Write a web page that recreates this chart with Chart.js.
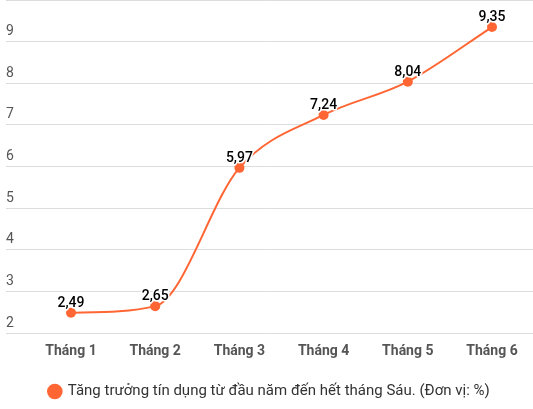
<!DOCTYPE html>
<html>
<head>
<meta charset="utf-8">
<script src="https://cdn.jsdelivr.net/npm/chart.js@4"></script>
<style>
html,body{margin:0;padding:0;background:#fff;overflow:hidden;}
#wrap{width:533px;height:409px;position:relative;}
</style>
</head>
<body>
<div id="wrap"><canvas id="c"></canvas></div>
<script>
const categories = ["Tháng 1","Tháng 2","Tháng 3","Tháng 4","Tháng 5","Tháng 6"];
const values = [2.49, 2.65, 5.97, 7.24, 8.04, 9.35];
const seriesName = "Tăng trưởng tín dụng từ đầu năm đến hết tháng Sáu. (Đơn vị: %)";
const yTicks = [2,3,4,5,6,7,8,9];

const lineColor = "#FF6633";

const labelPlugin = {
  id: "valueLabels",
  afterDatasetsDraw(chart) {
    const ctx = chart.ctx;
    const meta = chart.getDatasetMeta(0);
    ctx.save();
    ctx.font = "500 14px Roboto";
    ctx.textAlign = "center";
    ctx.textBaseline = "alphabetic";
    ctx.lineJoin = "round";
    meta.data.forEach((pt, i) => {
      const txt = values[i].toFixed(2).replace(".", ",");
      ctx.lineWidth = 3;
      ctx.strokeStyle = "#fff";
      ctx.strokeText(txt, pt.x, pt.y - 6);
      ctx.fillStyle = "#000";
      ctx.fillText(txt, pt.x, pt.y - 6);
    });
    ctx.restore();
  }
};

new Chart(document.getElementById("c"), {
  type: "line",
  data: {
    datasets: [{
      label: seriesName,
      data: values.map((v, i) => ({x: i, y: v})),
      borderColor: lineColor,
      backgroundColor: lineColor,
      borderWidth: 2,
      pointRadius: 5,
      pointHoverRadius: 5,
      pointBackgroundColor: lineColor,
      pointBorderColor: lineColor,
      pointBorderWidth: 0,
      cubicInterpolationMode: "monotone",
      clip: false
    }]
  },
  options: {
    responsive: true,
    maintainAspectRatio: false,
    animation: false,
    devicePixelRatio: 1,
    layout: { autoPadding: false, padding: { left: 6, right: 0, top: 0, bottom: 0 } },
    plugins: {
      tooltip: { enabled: false },
      legend: {
        position: "bottom",
        labels: {
          usePointStyle: true,
          pointStyle: "circle",
          boxWidth: 11,
          boxHeight: 11,
          color: "#333",
          font: { family: "Roboto", size: 15 },
          padding: 12
        }
      }
    },
    scales: {
      x: {
        type: "linear",
        min: -0.772,
        max: 5.487,
        afterFit: (axis) => { axis.paddingLeft = 0; axis.paddingRight = 0; axis.height += 10; },
        grid: { display: false },
        border: { display: false },
        ticks: {
          stepSize: 1,
          includeBounds: false,
          autoSkip: false,
          maxRotation: 0,
          padding: 2,
          color: "#555",
          font: { family: "Roboto", size: 14, weight: "bold" },
          callback: (v) => (Number.isInteger(v) && categories[v] !== undefined) ? categories[v] : ""
        }
      },
      y: {
        min: 2,
        max: 10,
        afterBuildTicks: (axis) => { axis.ticks = yTicks.concat([10]).map(v => ({value: v})); },
        afterFit: (axis) => { axis.paddingTop = 0; axis.paddingBottom = 0; },
        grid: { color: "#ddd", drawTicks: false, lineWidth: 1 },
        border: { display: false },
        ticks: {
          mirror: true,
          padding: 0,
          labelOffset: -10,
          color: "#555",
          font: { family: "Roboto", size: 14 },
          callback: (v) => yTicks.includes(v) ? String(v) : ""
        }
      }
    }
  },
  plugins: [labelPlugin]
});
</script>
</body>
</html>
